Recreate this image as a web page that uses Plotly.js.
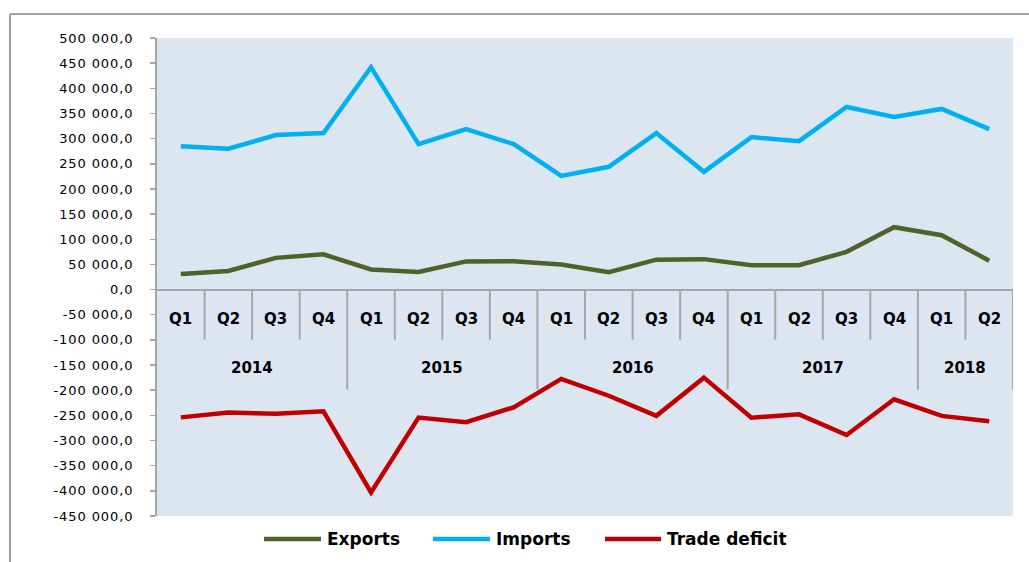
<!DOCTYPE html>
<html>
<head>
<meta charset="utf-8">
<script src="https://cdn.plot.ly/plotly-3.0.1.min.js"></script>
<style>
  html, body { margin: 0; padding: 0; background: #fff; }
  #chart { width: 1029px; height: 562px; }
  .ytick text { letter-spacing: 0.9px; }
  .annotation-text.legtxt, .legtxt { letter-spacing: 0.4px; }
</style>
</head>
<body>
<div id="chart"></div>
<script>
// ---- Data ----
const quarters = ['Q1','Q2','Q3','Q4','Q1','Q2','Q3','Q4','Q1','Q2','Q3','Q4','Q1','Q2','Q3','Q4','Q1','Q2'];
const years    = ['2014','2014','2014','2014','2015','2015','2015','2015','2016','2016','2016','2016','2017','2017','2017','2017','2018','2018'];

const exportsVals = [31000, 37000, 63000, 70000, 40000, 35000, 56000, 56500, 50000, 34500, 59500, 60500, 48500, 48500, 75000, 124000, 108000, 57500];
const importsVals = [285000, 280000, 307000, 311000, 442000, 289000, 319000, 289000, 226000, 244000, 311000, 234000, 303000, 295000, 363000, 343000, 359000, 319000];
const deficitVals = [-254000, -244500, -247000, -242000, -403000, -254500, -263500, -234000, -177500, -211000, -251000, -175000, -254500, -248000, -289000, -218000, -251000, -261500];

const seriesNames  = ['Exports', 'Imports', 'Trade deficit'];
const seriesColors = ['#4f6228', '#00b0f0', '#c00000'];

const yTickVals = [500000, 450000, 400000, 350000, 300000, 250000, 200000, 150000, 100000, 50000, 0,
                   -50000, -100000, -150000, -200000, -250000, -300000, -350000, -400000, -450000];

function fmt(v) {
  const neg = v < 0;
  const a = Math.abs(v);
  const s = String(Math.round(a)).replace(/\B(?=(\d{3})+(?!\d))/g, ' ');
  return (neg ? '-' : '') + s + ',0';
}
const yTickText = yTickVals.map(fmt);

// ---- Traces ----
const xIdx = quarters.map((_, i) => i);
const seriesVals = [exportsVals, importsVals, deficitVals];
const traces = seriesVals.map((vals, k) => ({
  type: 'scatter',
  mode: 'lines',
  x: xIdx,
  y: vals,
  name: seriesNames[k],
  line: { color: seriesColors[k], width: 4.5 },
  hoverinfo: 'x+y',
  showlegend: false
}));

// ---- Category axis drawn at zero line ----
const sepColor = '#a6a6a6';
const shapes = [];
const annotations = [];
const lblFont = { family: 'DejaVu Sans', size: 15, color: '#000', weight: 'bold' };
const legFont = { family: 'DejaVu Sans', size: 17, color: '#000', weight: 'bold' };

for (let i = 0; i < quarters.length; i++) {
  annotations.push({
    x: i, y: 0, xref: 'x', yref: 'y', text: '<b>' + quarters[i] + '</b>',
    showarrow: false, xanchor: 'center', yanchor: 'middle', yshift: -29.5, font: lblFont
  });
  if (i < quarters.length - 1) {
    const yearBoundary = years[i] !== years[i + 1];
    shapes.push({
      type: 'line', xref: 'x', yref: 'y', ysizemode: 'pixel', yanchor: 0,
      x0: i + 0.5, x1: i + 0.5, y0: 0, y1: yearBoundary ? -100 : -50,
      line: { color: sepColor, width: 2 }, layer: 'below'
    });
  }
}
// right end boundary
shapes.push({
  type: 'line', xref: 'x', yref: 'y', ysizemode: 'pixel', yanchor: 0,
  x0: quarters.length - 0.5, x1: quarters.length - 0.5, y0: 0, y1: -100,
  line: { color: sepColor, width: 2 }, layer: 'below'
});
// year labels centred on groups
const uniqYears = [...new Set(years)];
uniqYears.forEach(yr => {
  const idx = xIdx.filter(i => years[i] === yr);
  const c = (idx[0] + idx[idx.length - 1]) / 2;
  annotations.push({
    x: c, y: 0, xref: 'x', yref: 'y', text: '<b>' + yr + '</b>',
    showarrow: false, xanchor: 'center', yanchor: 'middle', yshift: -78, font: lblFont
  });
});

// ---- Custom legend (Excel-like) ----
const W = 856, H = 478, L = 157, T = 38;
const px = p => (p - L) / W;
const py = p => (T + H - p) / H;
const legendItems = [
  { lineFrom: 264, lineTo: 321, text: 325 },
  { lineFrom: 433, lineTo: 490, text: 494 },
  { lineFrom: 605, lineTo: 661, text: 665 }
];
legendItems.forEach((it, k) => {
  shapes.push({
    type: 'line', xref: 'paper', yref: 'paper',
    x0: px(it.lineFrom), x1: px(it.lineTo), y0: py(539), y1: py(539),
    line: { color: seriesColors[k], width: 4.5 }
  });
  annotations.push({
    xref: 'paper', yref: 'paper', x: px(it.text), y: py(539),
    text: '<b>' + seriesNames[k] + '</b>', showarrow: false,
    xanchor: 'left', yanchor: 'middle', font: legFont
  });
});

// ---- Outer frame ----
shapes.push({
  type: 'line', xref: 'paper', yref: 'paper',
  x0: px(10), x1: px(1029), y0: py(14), y1: py(14),
  line: { color: '#a0a0a0', width: 2 }
});
shapes.push({
  type: 'line', xref: 'paper', yref: 'paper',
  x0: px(10), x1: px(10), y0: py(14), y1: py(562),
  line: { color: '#a0a0a0', width: 2 }
});

const layout = {
  width: 1029, height: 562,
  margin: { l: 157, r: 16, t: 38, b: 46, pad: 0 },
  paper_bgcolor: '#ffffff',
  plot_bgcolor: '#dce6f1',
  showlegend: false,
  font: { family: 'DejaVu Sans', size: 13, color: '#000' },
  xaxis: {
    range: [-0.5, quarters.length - 0.5],
    showticklabels: false, showgrid: false, zeroline: false, showline: false, ticks: '',
    fixedrange: true
  },
  yaxis: {
    range: [-450000, 500000],
    tickvals: yTickVals, ticktext: yTickText,
    showgrid: false,
    zeroline: true, zerolinecolor: sepColor, zerolinewidth: 2,
    showline: true, linecolor: '#a6a6a6', linewidth: 2,
    ticks: 'outside', ticklen: 5, tickcolor: '#a6a6a6', tickwidth: 1.5,
    ticklabelstandoff: 14,
    tickfont: { family: 'DejaVu Sans', size: 13, color: '#000' },
    fixedrange: true
  },
  shapes: shapes,
  annotations: annotations
};

Plotly.newPlot('chart', traces, layout, { displayModeBar: false, staticPlot: true });
</script>
</body>
</html>
